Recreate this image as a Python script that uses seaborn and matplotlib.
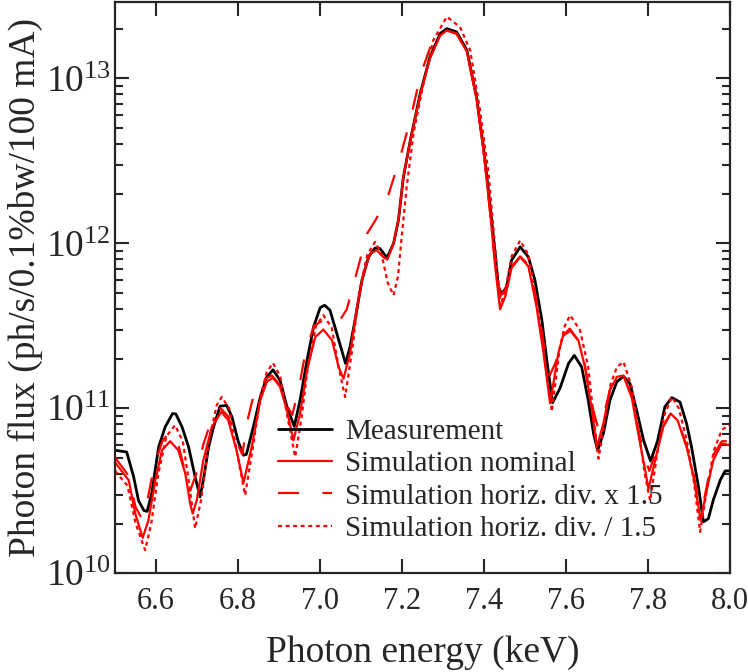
import numpy as np
import pandas as pd
import matplotlib
matplotlib.use("Agg")
import matplotlib.pyplot as plt
import seaborn as sns
from matplotlib.ticker import FixedLocator, LogLocator, NullLocator, FormatStrFormatter

# Photon energy (keV) and flux (ph/s/0.1%bw/100 mA)
meas_e = [6.500, 6.528, 6.545, 6.557, 6.570, 6.578, 6.589, 6.606, 6.622, 6.640,
          6.648, 6.663, 6.679, 6.695, 6.707, 6.715, 6.728, 6.740, 6.756, 6.772,
          6.785, 6.800, 6.813, 6.820, 6.837, 6.854, 6.870, 6.885, 6.902, 6.919,
          6.937, 6.951, 6.968, 6.984, 7.000, 7.011, 7.024, 7.041, 7.062, 7.073,
          7.085, 7.102, 7.118, 7.134, 7.146, 7.163, 7.179, 7.191, 7.203, 7.220,
          7.244, 7.268, 7.293, 7.309, 7.333, 7.358, 7.382, 7.400, 7.415, 7.427,
          7.435, 7.443, 7.455, 7.467, 7.488, 7.508, 7.524, 7.541, 7.553, 7.567,
          7.585, 7.606, 7.620, 7.638, 7.654, 7.667, 7.677, 7.691, 7.707, 7.724,
          7.740, 7.756, 7.772, 7.789, 7.806, 7.823, 7.841, 7.858, 7.878, 7.894,
          7.906, 7.923, 7.935, 7.947, 7.959, 7.976, 7.988, 8.000]
meas_flux = [5.56e10, 5.43e10, 3.84e10, 2.75e10, 2.40e10, 2.37e10, 3.04e10, 5.83e10, 7.71e10, 9.29e10,
             9.23e10, 7.71e10, 5.83e10, 3.84e10, 2.90e10, 3.66e10, 5.83e10, 7.71e10, 1.03e11, 1.04e11,
             8.85e10, 6.31e10, 5.19e10, 5.25e10, 7.71e10, 1.17e11, 1.55e11, 1.71e11, 1.48e11, 1.02e11,
             7.76e10, 1.12e11, 1.95e11, 3.11e11, 4.07e11, 4.21e11, 3.93e11, 2.82e11, 1.87e11, 2.36e11,
             3.41e11, 5.97e11, 8.26e11, 9.35e11, 9.29e11, 8.18e11, 9.95e11, 1.38e12, 2.51e12, 4.21e12,
             8.07e12, 1.35e13, 1.87e13, 2.00e13, 1.91e13, 1.48e13, 7.59e12, 3.55e12, 1.66e12, 8.67e11,
             5.43e11, 4.95e11, 5.43e11, 7.89e11, 9.51e11, 8.26e11, 5.97e11, 3.41e11, 1.95e11, 1.08e11,
             1.32e11, 1.87e11, 2.09e11, 1.78e11, 1.12e11, 7.03e10, 5.56e10, 7.03e10, 1.12e11, 1.45e11,
             1.56e11, 1.41e11, 9.73e10, 6.40e10, 4.79e10, 6.31e10, 1.02e11, 1.16e11, 1.09e11, 8.07e10,
             5.83e10, 3.33e10, 2.05e10, 2.14e10, 2.77e10, 3.66e10, 4.17e10, 4.17e10]

nom_e = [6.500, 6.533, 6.549, 6.567, 6.581, 6.598, 6.614, 6.634, 6.654, 6.671,
         6.683, 6.689, 6.699, 6.715, 6.736, 6.759, 6.776, 6.796, 6.813, 6.833,
         6.854, 6.870, 6.885, 6.902, 6.919, 6.935, 6.951, 6.968, 6.988, 7.008,
         7.029, 7.045, 7.057, 7.073, 7.090, 7.106, 7.122, 7.138, 7.154, 7.164,
         7.179, 7.191, 7.203, 7.220, 7.244, 7.268, 7.293, 7.309, 7.333, 7.358,
         7.382, 7.400, 7.415, 7.427, 7.439, 7.452, 7.467, 7.488, 7.508, 7.528,
         7.545, 7.561, 7.581, 7.593, 7.609, 7.630, 7.646, 7.663, 7.675, 7.691,
         7.707, 7.724, 7.740, 7.760, 7.776, 7.793, 7.801, 7.821, 7.837, 7.855,
         7.872, 7.894, 7.911, 7.923, 7.928, 7.943, 7.959, 7.980, 8.000]
nom_flux = [4.68e10, 3.66e10, 2.30e10, 1.64e10, 2.09e10, 3.66e10, 5.56e10, 6.31e10, 5.56e10, 4.02e10,
            2.64e10, 2.30e10, 2.77e10, 4.84e10, 7.71e10, 9.51e10, 8.45e10, 5.56e10, 3.52e10, 5.83e10,
            1.12e11, 1.45e11, 1.53e11, 1.35e11, 9.73e10, 6.40e10, 9.29e10, 1.70e11, 2.70e11, 3.00e11,
            2.58e11, 1.78e11, 1.51e11, 2.15e11, 4.11e11, 6.55e11, 8.67e11, 9.08e11, 8.26e11, 7.96e11,
            9.95e11, 1.38e12, 2.51e12, 4.17e12, 7.94e12, 1.32e13, 1.82e13, 1.95e13, 1.86e13, 1.45e13,
            7.41e12, 3.39e12, 1.51e12, 7.24e11, 3.98e11, 4.79e11, 7.08e11, 8.26e11, 7.24e11, 4.11e11,
            2.15e11, 1.07e11, 2.15e11, 2.77e11, 3.04e11, 2.58e11, 1.78e11, 9.73e10, 5.83e10, 8.07e10,
            1.29e11, 1.55e11, 1.58e11, 1.17e11, 7.03e10, 4.21e10, 3.24e10, 5.31e10, 7.71e10, 9.29e10,
            8.45e10, 5.83e10, 3.84e10, 2.52e10, 2.09e10, 3.18e10, 4.84e10, 6.11e10, 5.97e10]

wide_e = [6.500, 6.530, 6.550, 6.565, 6.580, 6.595, 6.615, 6.633, 6.652, 6.668,
          6.683, 6.700, 6.715, 6.735, 6.757, 6.776, 6.795, 6.810, 6.825, 6.840,
          6.860, 6.882, 6.900, 6.918, 6.932, 6.948, 6.965, 6.985, 7.005, 7.025,
          7.045, 7.065, 7.090, 7.115, 7.135, 7.165, 7.195, 7.220, 7.245, 7.270,
          7.295, 7.310, 7.333, 7.358, 7.382, 7.400, 7.415, 7.427, 7.440, 7.452,
          7.467, 7.488, 7.508, 7.528, 7.545, 7.560, 7.575, 7.593, 7.610, 7.630,
          7.646, 7.663, 7.678, 7.693, 7.708, 7.724, 7.740, 7.760, 7.776, 7.792,
          7.803, 7.821, 7.837, 7.855, 7.872, 7.894, 7.911, 7.925, 7.933, 7.945,
          7.960, 7.980, 8.000]
wide_flux = [5.01e10, 3.98e10, 2.51e10, 2.14e10, 2.88e10, 4.47e10, 6.31e10, 7.24e10, 6.31e10, 4.37e10,
             3.16e10, 4.17e10, 6.03e10, 8.51e10, 1.00e11, 8.91e10, 6.31e10, 5.25e10, 8.91e10, 1.26e11,
             1.48e11, 1.58e11, 1.41e11, 1.05e11, 9.12e10, 1.32e11, 2.24e11, 3.16e11, 3.39e11, 3.16e11,
             3.31e11, 3.98e11, 6.76e11, 1.15e12, 1.38e12, 1.91e12, 3.31e12, 5.62e12, 1.05e13, 1.58e13,
             1.86e13, 1.95e13, 1.86e13, 1.45e13, 7.41e12, 3.39e12, 1.51e12, 7.59e11, 4.79e11, 5.25e11,
             7.24e11, 8.32e11, 7.41e11, 4.47e11, 2.51e11, 1.58e11, 1.91e11, 2.75e11, 2.95e11, 2.57e11,
             1.82e11, 1.05e11, 7.59e10, 9.33e10, 1.32e11, 1.55e11, 1.58e11, 1.17e11, 7.41e10, 5.01e10,
             4.17e10, 5.62e10, 7.76e10, 9.33e10, 8.51e10, 5.89e10, 3.98e10, 2.63e10, 2.51e10, 3.55e10,
             5.25e10, 6.31e10, 6.31e10]

narrow_e = [6.500, 6.530, 6.550, 6.573, 6.588, 6.605, 6.625, 6.646, 6.665, 6.680,
            6.695, 6.710, 6.730, 6.748, 6.760, 6.778, 6.798, 6.817, 6.835, 6.855,
            6.870, 6.885, 6.903, 6.920, 6.939, 6.955, 6.970, 6.990, 7.008, 7.028,
            7.045, 7.061, 7.078, 7.095, 7.115, 7.134, 7.150, 7.165, 7.179, 7.190,
            7.199, 7.211, 7.228, 7.252, 7.276, 7.309, 7.341, 7.366, 7.390, 7.411,
            7.431, 7.440, 7.452, 7.467, 7.488, 7.508, 7.528, 7.548, 7.565, 7.585,
            7.597, 7.610, 7.634, 7.654, 7.667, 7.679, 7.693, 7.708, 7.724, 7.740,
            7.760, 7.778, 7.792, 7.805, 7.822, 7.840, 7.858, 7.875, 7.895, 7.912,
            7.927, 7.943, 7.960, 7.980, 8.000]
narrow_flux = [4.17e10, 3.39e10, 2.00e10, 1.38e10, 2.00e10, 3.98e10, 6.76e10, 7.89e10, 6.31e10, 3.55e10,
               1.87e10, 2.82e10, 6.61e10, 1.05e11, 1.17e11, 1.00e11, 5.25e10, 2.97e10, 5.62e10, 1.20e11,
               1.66e11, 1.88e11, 1.55e11, 8.91e10, 5.07e10, 8.91e10, 1.78e11, 3.16e11, 3.66e11, 3.09e11,
               1.78e11, 1.17e11, 2.24e11, 5.01e11, 8.51e11, 1.02e12, 8.51e11, 5.75e11, 4.84e11, 6.31e11,
               1.10e12, 2.19e12, 4.68e12, 9.29e12, 1.70e13, 2.36e13, 2.05e13, 1.48e13, 6.40e12, 2.64e12,
               7.18e11, 4.17e11, 5.25e11, 8.32e11, 1.04e12, 8.51e11, 4.47e11, 2.00e11, 9.55e10, 2.36e11,
               3.16e11, 3.66e11, 2.97e11, 1.78e11, 8.91e10, 4.95e10, 7.94e10, 1.38e11, 1.78e11, 1.91e11,
               1.35e11, 7.08e10, 3.98e10, 2.75e10, 5.25e10, 9.12e10, 1.17e11, 1.00e11, 6.31e10, 3.55e10,
               1.78e10, 3.16e10, 5.50e10, 7.41e10, 7.94e10]

x_ticks = [6.6, 6.8, 7.0, 7.2, 7.4, 7.6, 7.8, 8.0]

sns.set_style("ticks")
plt.rcParams['font.family'] = ['Liberation Serif', 'DejaVu Serif']
plt.rcParams['mathtext.fontset'] = 'custom'
plt.rcParams['mathtext.rm'] = 'Liberation Serif'
plt.rcParams['mathtext.it'] = 'Liberation Serif:italic'
plt.rcParams['axes.linewidth'] = 1.6
plt.rcParams['lines.solid_joinstyle'] = 'round'

fig, ax = plt.subplots(figsize=(7.48, 6.72), dpi=100)
fig.subplots_adjust(left=0.154, right=0.976, bottom=0.147, top=0.997)
ax.set_yscale('log')

sns.lineplot(x=meas_e, y=meas_flux, ax=ax, color='black', lw=2.0,
             sort=False, estimator=None, label='Measurement')
sns.lineplot(x=nom_e, y=nom_flux, ax=ax, color='#ff0000', lw=1.6,
             sort=False, estimator=None, label='Simulation nominal')
sns.lineplot(x=wide_e, y=wide_flux, ax=ax, color='#ff0000', lw=1.6, ls=(0, (9.5, 10.5)),
             sort=False, estimator=None, label='Simulation horiz. div. x 1.5')
sns.lineplot(x=narrow_e, y=narrow_flux, ax=ax, color='#ff0000', lw=1.6, ls=(0, (1.8, 1.6)),
             sort=False, estimator=None, label='Simulation horiz. div. / 1.5')

ax.set_xlim(6.5, 8.0)
ax.set_ylim(1e10, 2.9e13)
ax.xaxis.set_major_locator(FixedLocator(x_ticks))
ax.xaxis.set_major_formatter(FormatStrFormatter('%.1f'))
ax.xaxis.set_minor_locator(NullLocator())
ax.yaxis.set_major_locator(LogLocator(base=10, numticks=10))
ax.yaxis.set_minor_locator(LogLocator(base=10, subs=np.arange(2, 10), numticks=10))

ax.tick_params(which='both', direction='in', top=True, right=True, width=1.5)
ax.tick_params(which='major', length=10)
ax.tick_params(which='minor', length=6)
ax.tick_params(axis='x', labelsize=22, pad=10)
ax.tick_params(axis='y', labelsize=27, pad=3)

ax.set_xlabel('Photon energy (keV)', fontsize=27, labelpad=14)
ax.set_ylabel('Photon flux (ph/s/0.1%bw/100 mA)', fontsize=27, labelpad=2)

ax.legend(loc='lower left', bbox_to_anchor=(0.265, 0.055), frameon=False,
          fontsize=21, handlelength=1.85, handletextpad=0.45,
          labelspacing=0.2, borderpad=0, borderaxespad=0)

fig.savefig('out.png', dpi=100)
